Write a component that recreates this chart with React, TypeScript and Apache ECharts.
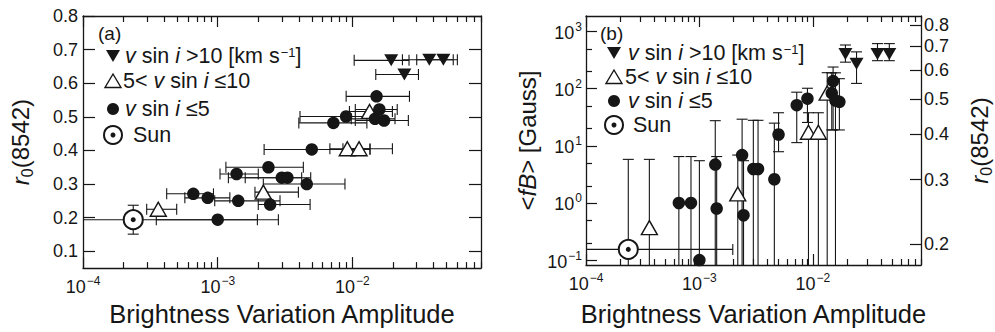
import React, { useEffect, useRef } from "react";
import * as echarts from "echarts";

const FONT = '"Liberation Sans", Arial, Helvetica, sans-serif';
const INK = "#161616";

// ---------------- Data ----------------
// v sin i > 10 km/s (filled down-triangles)
const fastAmp = [0.0194, 0.0243, 0.0372, 0.0473];
const fastAmpLo = [0.0103, 0.0149, 0.0235, 0.03];
const fastAmpHi = [0.0263, 0.0309, 0.056, 0.0601];
const fastR0 = [0.668, 0.626, 0.67, 0.67];
const fastFB = [404, 273, 404, 404];
const fastFBLo = [292, 124, 310, 310];
const fastFBHi = [583, 442, 617, 617];

// 5 < v sin i <= 10 (open up-triangles)
const midAmp = [3.62e-4, 2.18e-3, 9.16e-3, 0.0112, 0.0134];
const midAmpLo = [2.97e-4, 1.89e-3, 6.8e-3, 8.5e-3, 9.5e-3];
const midAmpHi = [4.96e-4, 3.97e-3, 0.0135, 0.0198, 0.0198];
const midR0 = [0.225, 0.276, 0.405, 0.405, 0.516];
const midFB = [0.37, 1.44, 17.3, 17.3, 84];
const midFBLo = [0.01, 0.01, 0.01, 0.01, 0.01];
const midFBHi = [5.8, 6.9, 38, 38, 191];

// v sin i <= 5 (filled circles)
const slowAmp = [6.59e-4, 8.43e-4, 1.0e-3, 1.38e-3, 1.42e-3, 2.38e-3, 2.45e-3, 2.99e-3, 3.29e-3, 4.58e-3, 4.99e-3, 7.22e-3, 8.97e-3, 0.0147, 0.01716, 0.01585, 0.0151];
const slowAmpLo = [4.18e-4, 5.7e-4, 3.5e-4, 1.04e-3, 9.5e-4, 1.15e-3, 2.0e-3, 1.2e-3, 1.6e-3, 2.18e-3, 2.21e-3, 4.0e-3, 4.08e-3, 9.8e-3, 0.0105, 0.0105, 8.98e-3];
const slowAmpHi = [9.3e-4, 1.23e-3, 2.82e-3, 2.0e-3, 2.9e-3, 4.32e-3, 4.85e-3, 4.2e-3, 4.9e-3, 8.8e-3, 0.0135, 0.0128, 0.0165, 0.0207, 0.026, 0.0215, 0.0265];
const slowR0 = [0.271, 0.259, 0.194, 0.33, 0.25, 0.35, 0.239, 0.319, 0.319, 0.3, 0.403, 0.482, 0.501, 0.494, 0.489, 0.522, 0.561];
const slowFB = [1.0, 1.0, 0.1, 4.7, 0.8, 6.9, 0.61, 3.94, 3.94, 2.6, 15.8, 51.6, 67, 84, 59, 62, 136];
const slowFBLo = [0.01, 0.01, 0.01, 0.01, 0.01, 0.01, 0.01, 0.01, 0.01, 0.01, 7.9, 11.4, 25.7, 19, 19, 0.01, 19];
const slowFBHi = [6.5, 6.5, 5.5, 27.6, 6.5, 29.3, 5.5, 28, 28, 25, 38, 87, 102, 190, 150, 190, 240];

// Sun
const sunAmp = [2.36e-4];
const sunAmpLo = [5e-5];
const sunAmpHi = [1.97e-3];
const sunR0 = [0.194];
const sunR0Lo = [0.151];
const sunR0Hi = [0.237];
const sunFB = [0.154];
const sunFBLo = [0.01];
const sunFBHi = [5.8];

// Axes
const X_MIN = 1e-4;
const X_MAX = 0.09;
const xMajorTicks = [1e-4, 1e-3, 1e-2];
const xMinorMult = [2, 3, 4, 5, 6, 7, 8, 9];
const R0_MIN = 0.05;
const R0_MAX = 0.8;
const r0Ticks = [0.1, 0.2, 0.3, 0.4, 0.5, 0.6, 0.7, 0.8];
const FB_MIN = 0.0821;
const FB_MAX = 1877;
const fbMajorTicks = [0.1, 1, 10, 100, 1000];
const fbMinorTicks = [0.2, 0.5, 2, 5, 20, 50, 200, 500];
const R0R_MIN = 0.1749;
const R0R_MAX = 0.8456;
const r0RightTicks = [0.2, 0.3, 0.4, 0.5, 0.6, 0.7, 0.8];

// ---------------- Helpers ----------------
const lg = (v: number) => Math.log10(v);
const xMinorTicks: number[] = [];
xMajorTicks.forEach((d) => xMinorMult.forEach((m) => { if (d * m <= X_MAX + 1e-12) xMinorTicks.push(d * m); }));

const LINE = { color: INK, width: 1.3 };
const TICK = { color: INK, width: 1.2 };
const MAJ = 11;
const MIN = 6;

const powRich = {
  b: { fontSize: 18, fontFamily: FONT, color: INK, verticalAlign: "bottom" },
  s: { fontSize: 12, fontFamily: FONT, color: INK, verticalAlign: "bottom", padding: [0, 0, 9, 1] },
};
const powLabel = (v: number) => {
  const e = Math.round(v);
  return `{b|10}{s|${e < 0 ? "\u2212" + Math.abs(e) : e}}`;
};

const titleRich = {
  n: { fontSize: 24, fontFamily: FONT, color: INK, verticalAlign: "middle", lineHeight: 30 },
  i: { fontSize: 24, fontFamily: FONT, color: INK, fontStyle: "italic", verticalAlign: "middle", lineHeight: 30 },
  sub: { fontSize: 16, fontFamily: FONT, color: INK, verticalAlign: "bottom", lineHeight: 18 },
};

function xAxes(grid: number, gap: number) {
  const base = {
    type: "value",
    gridIndex: grid,
    min: lg(X_MIN),
    max: lg(X_MAX),
    splitLine: { show: false },
  };
  return [
    {
      ...base,
      position: "bottom",
      axisLine: { show: true, onZero: false, lineStyle: LINE },
      axisTick: { show: true, inside: true, length: MAJ, customValues: xMajorTicks.map(lg), lineStyle: TICK },
      axisLabel: { show: true, customValues: xMajorTicks.map(lg), formatter: powLabel, rich: powRich, margin: 7 },
      name: "Brightness Variation Amplitude",
      nameLocation: "middle",
      nameGap: gap,
      nameTextStyle: { fontSize: 25.5, fontFamily: FONT, color: INK },
    },
    {
      ...base,
      position: "bottom",
      axisLine: { show: false, onZero: false },
      axisTick: { show: true, inside: true, length: MIN, customValues: xMinorTicks.map(lg), lineStyle: TICK },
      axisLabel: { show: false },
    },
    {
      ...base,
      position: "top",
      axisLine: { show: true, onZero: false, lineStyle: LINE },
      axisTick: { show: true, inside: true, length: MAJ, customValues: xMajorTicks.map(lg), lineStyle: TICK },
      axisLabel: { show: false },
    },
    {
      ...base,
      position: "top",
      axisLine: { show: false, onZero: false },
      axisTick: { show: true, inside: true, length: MIN, customValues: xMinorTicks.map(lg), lineStyle: TICK },
      axisLabel: { show: false },
    },
  ];
}

const CAP = 5.5;
const ERR = { stroke: INK, lineWidth: 1.1 };
function seg(x1: number, y1: number, x2: number, y2: number) {
  return { type: "line", shape: { x1, y1, x2, y2 }, style: ERR };
}
function renderH(_p: any, api: any) {
  const y = api.value(1);
  const a = api.coord([api.value(2), y]);
  const b = api.coord([api.value(3), y]);
  return {
    type: "group",
    children: [seg(a[0], a[1], b[0], b[1]), seg(a[0], a[1] - CAP, a[0], a[1] + CAP), seg(b[0], b[1] - CAP, b[0], b[1] + CAP)],
  };
}
function renderV(_p: any, api: any) {
  const x = api.value(0);
  const a = api.coord([x, api.value(2)]);
  const b = api.coord([x, api.value(3)]);
  return {
    type: "group",
    children: [seg(a[0], a[1], b[0], b[1]), seg(a[0] - CAP, a[1], a[0] + CAP, a[1]), seg(b[0] - CAP, b[1], b[0] + CAP, b[1])],
  };
}

const zipH = (amp: number[], y: number[], lo: number[], hi: number[], ly: boolean) =>
  amp.map((a, i) => [lg(a), ly ? lg(y[i]) : y[i], lg(lo[i]), lg(hi[i])]);
const zipV = (amp: number[], y: number[], lo: number[], hi: number[], ly: boolean) =>
  amp.map((a, i) => ly ? [lg(a), lg(y[i]), lg(lo[i]), lg(hi[i])] : [lg(a), y[i], lo[i], hi[i]]);
const pts = (amp: number[], y: number[], ly: boolean) => amp.map((a, i) => [lg(a), ly ? lg(y[i]) : y[i]]);

function scatterSet(xi: number, yi: number, ly: boolean, yFast: number[], yMid: number[], ySlow: number[], ySun: number[]) {
  const common = { type: "scatter", xAxisIndex: xi, yAxisIndex: yi, silent: true, z: 4, clip: true };
  return [
    { ...common, symbol: "triangle", symbolRotate: 180, symbolSize: [14, 12], itemStyle: { color: INK, opacity: 1 }, data: pts(fastAmp, yFast, ly) },
    { ...common, symbol: "triangle", symbolSize: [16, 14], itemStyle: { color: "#fff", borderColor: INK, borderWidth: 1.4, opacity: 1 }, data: pts(midAmp, yMid, ly) },
    { ...common, symbol: "circle", symbolSize: 12.5, itemStyle: { color: INK, opacity: 1 }, data: pts(slowAmp, ySlow, ly) },
    { ...common, symbol: "circle", symbolSize: 19, itemStyle: { color: "#fff", borderColor: INK, borderWidth: 2, opacity: 1 }, data: pts(sunAmp, ySun, ly) },
    { ...common, symbol: "circle", symbolSize: 5, z: 5, itemStyle: { color: INK, opacity: 1 }, data: pts(sunAmp, ySun, ly) },
  ];
}

const legRich = {
  n: { fontSize: 21.5, fontFamily: FONT, fill: INK, verticalAlign: "bottom" },
  i: { fontSize: 21.5, fontFamily: FONT, fill: INK, fontStyle: "italic", verticalAlign: "bottom" },
  s: { fontSize: 13, fontFamily: FONT, fill: INK, verticalAlign: "bottom", padding: [0, 0, 8, 1] },
};
function legend(mx: number, rows: number[], tx: number[], tag: string, tagX: number, tagY: number) {
  const [y1, y2, y3, y4] = rows;
  const txt = (x: number, y: number, text: string) => ({
    type: "text",
    silent: true,
    style: { x, y, text, rich: legRich, verticalAlign: "middle", align: "left", font: `21.5px ${FONT}`, fill: INK },
  });
  return [
    { type: "text", silent: true, style: { x: tagX, y: tagY, text: tag, font: `19px ${FONT}`, fill: INK, verticalAlign: "middle" } },
    { type: "polygon", silent: true, shape: { points: [[mx - 7, y1 - 6], [mx + 7, y1 - 6], [mx, y1 + 6]] }, style: { fill: INK } },
    txt(tx[0], y1, "{i|v}{n| sin }{i|i}{n| >10 [km s}{s|\u22121}{n|]}"),
    { type: "polygon", silent: true, shape: { points: [[mx - 8, y2 + 6.5], [mx + 8, y2 + 6.5], [mx, y2 - 7]] }, style: { fill: "#fff", stroke: INK, lineWidth: 1.4 } },
    txt(tx[1], y2, "{n|5< }{i|v}{n| sin }{i|i}{n| \u226410}"),
    { type: "circle", silent: true, shape: { cx: mx, cy: y3, r: 6 }, style: { fill: INK } },
    txt(tx[2], y3, "{i|v}{n| sin }{i|i}{n| \u22645}"),
    { type: "circle", silent: true, shape: { cx: mx, cy: y4, r: 9 }, style: { fill: "#fff", stroke: INK, lineWidth: 2 } },
    { type: "circle", silent: true, shape: { cx: mx, cy: y4, r: 2.5 }, style: { fill: INK } },
    txt(tx[3], y4, "{n|Sun}"),
  ];
}

function buildOption() {
  const xs0 = xAxes(0, 30);
  const xs1 = xAxes(1, 36);
  const yAxis = [
    // 0: left panel r0 (left)
    {
      type: "value", gridIndex: 0, position: "left", min: R0_MIN, max: R0_MAX,
      splitLine: { show: false },
      axisLine: { show: true, onZero: false, lineStyle: LINE },
      axisTick: { show: true, inside: true, length: 12, customValues: r0Ticks, lineStyle: TICK },
      axisLabel: { customValues: r0Ticks, formatter: (v: number) => v.toFixed(1), fontSize: 18, fontFamily: FONT, color: INK, margin: 5 },
      name: "{i|r}{sub|0}{n|(8542)}", nameLocation: "middle", nameGap: 48, nameRotate: 90,
      nameTextStyle: { rich: titleRich },
    },
    // 1: left panel right frame
    {
      type: "value", gridIndex: 0, position: "right", min: R0_MIN, max: R0_MAX,
      splitLine: { show: false },
      axisLine: { show: true, onZero: false, lineStyle: LINE },
      axisTick: { show: true, inside: true, length: 12, customValues: r0Ticks, lineStyle: TICK },
      axisLabel: { show: false },
    },
    // 2: right panel <fB> major (log space)
    {
      type: "value", gridIndex: 1, position: "left", min: lg(FB_MIN), max: lg(FB_MAX),
      splitLine: { show: false },
      axisLine: { show: true, onZero: false, lineStyle: LINE },
      axisTick: { show: true, inside: true, length: MAJ, customValues: fbMajorTicks.map(lg), lineStyle: TICK },
      axisLabel: { customValues: fbMajorTicks.map(lg), formatter: powLabel, rich: powRich, margin: 4 },
      name: "{n|<}{i|fB}{n|> [Gauss]}", nameLocation: "middle", nameGap: 44, nameRotate: 90,
      nameTextStyle: { rich: titleRich },
    },
    // 3: right panel <fB> minor
    {
      type: "value", gridIndex: 1, position: "left", min: lg(FB_MIN), max: lg(FB_MAX),
      splitLine: { show: false },
      axisLine: { show: false, onZero: false },
      axisTick: { show: true, inside: true, length: MIN, customValues: fbMinorTicks.map(lg), lineStyle: TICK },
      axisLabel: { show: false },
    },
    // 4: right panel r0 (right, log)
    {
      type: "value", gridIndex: 1, position: "right", min: lg(R0R_MIN), max: lg(R0R_MAX),
      splitLine: { show: false },
      axisLine: { show: true, onZero: false, lineStyle: LINE },
      axisTick: { show: true, inside: true, length: 11, customValues: r0RightTicks.map(lg), lineStyle: TICK },
      axisLabel: { customValues: r0RightTicks.map(lg), formatter: (v: number) => Math.pow(10, v).toFixed(1), fontSize: 18, fontFamily: FONT, color: INK, margin: 3 },
      name: "{i|r}{sub|0}{n|(8542)}", nameLocation: "middle", nameGap: 43, nameRotate: 90,
      nameTextStyle: { rich: titleRich },
    },
  ];

  const errHLeft = [
    ...zipH(fastAmp, fastR0, fastAmpLo, fastAmpHi, false),
    ...zipH(midAmp, midR0, midAmpLo, midAmpHi, false),
    ...zipH(slowAmp, slowR0, slowAmpLo, slowAmpHi, false),
    ...zipH(sunAmp, sunR0, sunAmpLo, sunAmpHi, false),
  ];
  const errVLeft = zipV(sunAmp, sunR0, sunR0Lo, sunR0Hi, false);
  const errVRight = [
    ...zipV(fastAmp, fastFB, fastFBLo, fastFBHi, true),
    ...zipV(midAmp, midFB, midFBLo, midFBHi, true),
    ...zipV(slowAmp, slowFB, slowFBLo, slowFBHi, true),
    ...zipV(sunAmp, sunFB, sunFBLo, sunFBHi, true),
  ];
  const errHRight = zipH(sunAmp, sunFB, sunAmpLo, sunAmpHi, true);

  const series: any[] = [
    { type: "custom", xAxisIndex: 0, yAxisIndex: 0, renderItem: renderH, data: errHLeft, clip: true, z: 2, silent: true, encode: { x: [0, 2, 3], y: 1 } },
    { type: "custom", xAxisIndex: 0, yAxisIndex: 0, renderItem: renderV, data: errVLeft, clip: true, z: 2, silent: true, encode: { x: 0, y: [1, 2, 3] } },
    ...scatterSet(0, 0, false, fastR0, midR0, slowR0, sunR0),
    { type: "custom", xAxisIndex: 4, yAxisIndex: 2, renderItem: renderV, data: errVRight, clip: true, z: 2, silent: true, encode: { x: 0, y: [1, 2, 3] } },
    { type: "custom", xAxisIndex: 4, yAxisIndex: 2, renderItem: renderH, data: errHRight, clip: true, z: 2, silent: true, encode: { x: [0, 2, 3], y: 1 } },
    ...scatterSet(4, 2, true, fastFB, midFB, slowFB, sunFB),
  ];

  return {
    animation: false,
    backgroundColor: "#fff",
    grid: [
      { left: 83, top: 16, width: 398, height: 261, containLabel: false },
      { left: 586, top: 16, width: 342, height: 255, containLabel: false },
    ],
    xAxis: [...xs0, ...xs1],
    yAxis,
    series,
    graphic: [
      ...legend(113, [56, 81, 109, 135], [125, 123, 125, 133], "(a)", 98, 33),
      ...legend(614, [53, 77, 101, 125], [628, 625, 628, 633], "(b)", 600, 33),
    ],
  };
}

export default function App() {
  const ref = useRef<HTMLDivElement>(null);
  useEffect(() => {
    const chart = echarts.init(ref.current!, null, { renderer: "svg" });
    chart.setOption(buildOption() as any);
    return () => chart.dispose();
  }, []);
  return (
    <div
      ref={ref}
      style={{ position: "fixed", left: 0, top: 0, width: 995, height: 332, background: "#fff" }}
    />
  );
}
